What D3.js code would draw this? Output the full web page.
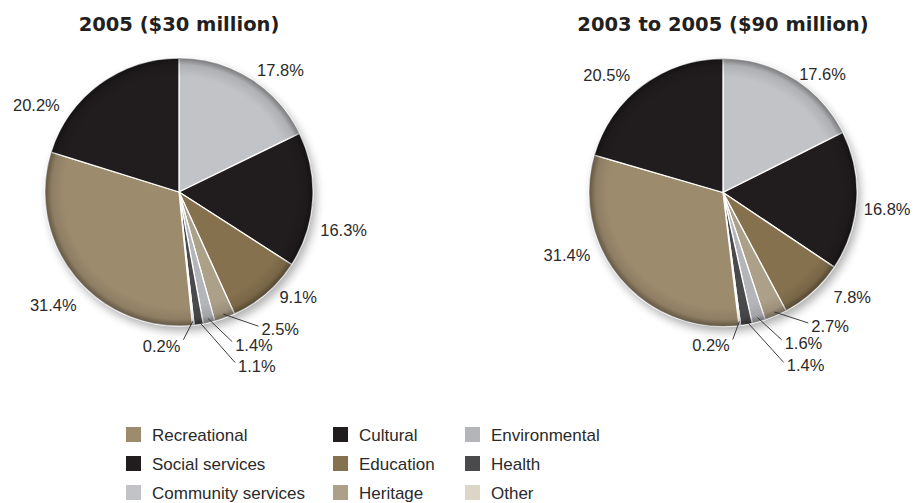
<!DOCTYPE html>
<html>
<head>
<meta charset="utf-8">
<script src="https://cdn.jsdelivr.net/npm/d3@7"></script>
<style>
  html, body { margin: 0; padding: 0; background: #ffffff; }
  svg { display: block; }
</style>
</head>
<body>
<script>
// Slice order, clockwise from 12 o'clock
const categories = ["Community services", "Cultural", "Education", "Heritage",
                    "Environmental", "Health", "Other", "Recreational", "Social services"];
const share2005 = [17.8, 16.3, 9.1, 2.5, 1.4, 1.1, 0.2, 31.4, 20.2];
const share2003to2005 = [17.6, 16.8, 7.8, 2.7, 1.6, 1.4, 0.2, 31.4, 20.5];
const pieTitles = ["2005 ($30 million)", "2003 to 2005 ($90 million)"];

// Legend reading order, row by row
const legendRows = [
  ["Recreational", "Cultural", "Environmental"],
  ["Social services", "Education", "Health"],
  ["Community services", "Heritage", "Other"]
];

const colors = {
  "Community services": "#c2c3c6",
  "Cultural": "#211d1e",
  "Education": "#85714e",
  "Heritage": "#ada089",
  "Environmental": "#b4b5b9",
  "Health": "#4a4a4c",
  "Other": "#ddd5c7",
  "Recreational": "#9d8b6d",
  "Social services": "#211d1e"
};

// Label placement: big slices get [angle shift (deg), distance], small slices a leader line [dx, dy]
const labelLayouts = [
  {
    "Community services": { polar: [7.6, 159] },
    "Cultural": { polar: [9.6, 169] },
    "Education": { polar: [-7.7, 159] },
    "Recreational": { polar: [-2.7, 169] },
    "Social services": { polar: [-22.3, 167] },
    "Heritage": { leader: [35, 12] },
    "Environmental": { leader: [24, 23] },
    "Health": { leader: [37, 42] },
    "Other": { leader: [-9.5, 18.5] }
  },
  {
    "Community services": { polar: [8.3, 155] },
    "Cultural": { polar: [2.3, 165] },
    "Education": { polar: [-9, 166] },
    "Recreational": { polar: [18.6, 168] },
    "Social services": { polar: [-7.9, 165] },
    "Heritage": { leader: [34, 11] },
    "Environmental": { leader: [24, 22] },
    "Health": { leader: [38, 42] },
    "Other": { leader: [-6.5, 18] }
  }
];

const width = 916, height = 503;
const radius = 134;
const centers = [[179, 192], [723, 192.5]];

const svg = d3.select("body").append("svg")
  .attr("width", width).attr("height", height);

const defs = svg.append("defs");
defs.append("filter").attr("id", "pie-shadow")
  .attr("x", "-20%").attr("y", "-20%").attr("width", "140%").attr("height", "140%")
  .append("feGaussianBlur").attr("stdDeviation", 5);

const rim = defs.append("radialGradient").attr("id", "rim-shade")
  .attr("cx", "50%").attr("cy", "50%").attr("r", "50%");
rim.append("stop").attr("offset", "0.86").attr("stop-color", "#000").attr("stop-opacity", 0);
rim.append("stop").attr("offset", "0.95").attr("stop-color", "#000").attr("stop-opacity", 0.1);
rim.append("stop").attr("offset", "1").attr("stop-color", "#000").attr("stop-opacity", 0.38);

const fmt = v => v.toFixed(1) + "%";
const rad = deg => deg * Math.PI / 180;
const polar = (angleRad, dist) => [Math.sin(angleRad) * dist, -Math.cos(angleRad) * dist];

const pie = d3.pie().sort(null).value(d => d.value);
const arc = d3.arc().innerRadius(0).outerRadius(radius);

[share2005, share2003to2005].forEach((values, i) => {
  const [cx, cy] = centers[i];
  const data = categories.map((c, k) => ({ category: c, value: values[k] }));
  const arcs = pie(data);
  const layout = labelLayouts[i];

  const g = svg.append("g").attr("transform", `translate(${cx},${cy})`);

  // title
  svg.append("text")
    .attr("x", cx).attr("y", 31)
    .attr("text-anchor", "middle")
    .attr("font-family", "'DejaVu Sans', sans-serif")
    .attr("font-weight", "bold")
    .attr("font-size", 19.5)
    .attr("fill", "#231f20")
    .text(pieTitles[i]);

  // soft shadow under the disc
  g.append("circle")
    .attr("cx", 3).attr("cy", 5).attr("r", radius)
    .attr("fill", "#000").attr("opacity", 0.32)
    .attr("filter", "url(#pie-shadow)");

  g.selectAll("path.slice")
    .data(arcs)
    .join("path")
    .attr("class", "slice")
    .attr("d", arc)
    .attr("fill", d => colors[d.data.category])
    .attr("stroke", "#ffffff")
    .attr("stroke-width", 1.3)
    .attr("stroke-linejoin", "round");

  // darkened rim
  g.append("circle").attr("r", radius).attr("fill", "url(#rim-shade)");

  const labelFont = g => g
    .attr("font-family", "'Liberation Sans', Arial, sans-serif")
    .attr("font-size", 16.5)
    .attr("fill", "#2a2a2a");

  arcs.forEach(a => {
    const mid = (a.startAngle + a.endAngle) / 2;
    const spec = layout[a.data.category];
    if (spec.polar) {
      const [dx, dy] = polar(mid + rad(spec.polar[0]), spec.polar[1]);
      g.append("text")
        .attr("x", dx).attr("y", dy)
        .attr("dy", "0.36em")
        .attr("text-anchor", "middle")
        .call(labelFont)
        .text(fmt(a.data.value));
    } else {
      const [sx, sy] = polar(mid, radius * 0.97);
      const ex = sx + spec.leader[0], ey = sy + spec.leader[1];
      g.append("line")
        .attr("x1", sx).attr("y1", sy).attr("x2", ex).attr("y2", ey)
        .attr("stroke", "#2a2a2a").attr("stroke-width", 0.9);
      const leftSide = spec.leader[0] < 0;
      g.append("text")
        .attr("x", leftSide ? ex - 3 : ex + 3)
        .attr("y", leftSide ? ey + 6 : ey + 3)
        .attr("dy", "0.36em")
        .attr("text-anchor", leftSide ? "end" : "start")
        .call(labelFont)
        .text(fmt(a.data.value));
    }
  });
});

// legend
const colX = [126, 333, 465];
const rowY = [427, 456, 485];
const legend = svg.append("g");
legendRows.forEach((row, r) => {
  row.forEach((name, c) => {
    legend.append("rect")
      .attr("x", colX[c]).attr("y", rowY[r])
      .attr("width", 15).attr("height", 15)
      .attr("fill", colors[name]);
    legend.append("text")
      .attr("x", colX[c] + 26).attr("y", rowY[r] + 14)
      .attr("font-family", "'Liberation Sans', Arial, sans-serif")
      .attr("font-size", 17)
      .attr("fill", "#2a2a2a")
      .text(name);
  });
});
</script>
</body>
</html>
